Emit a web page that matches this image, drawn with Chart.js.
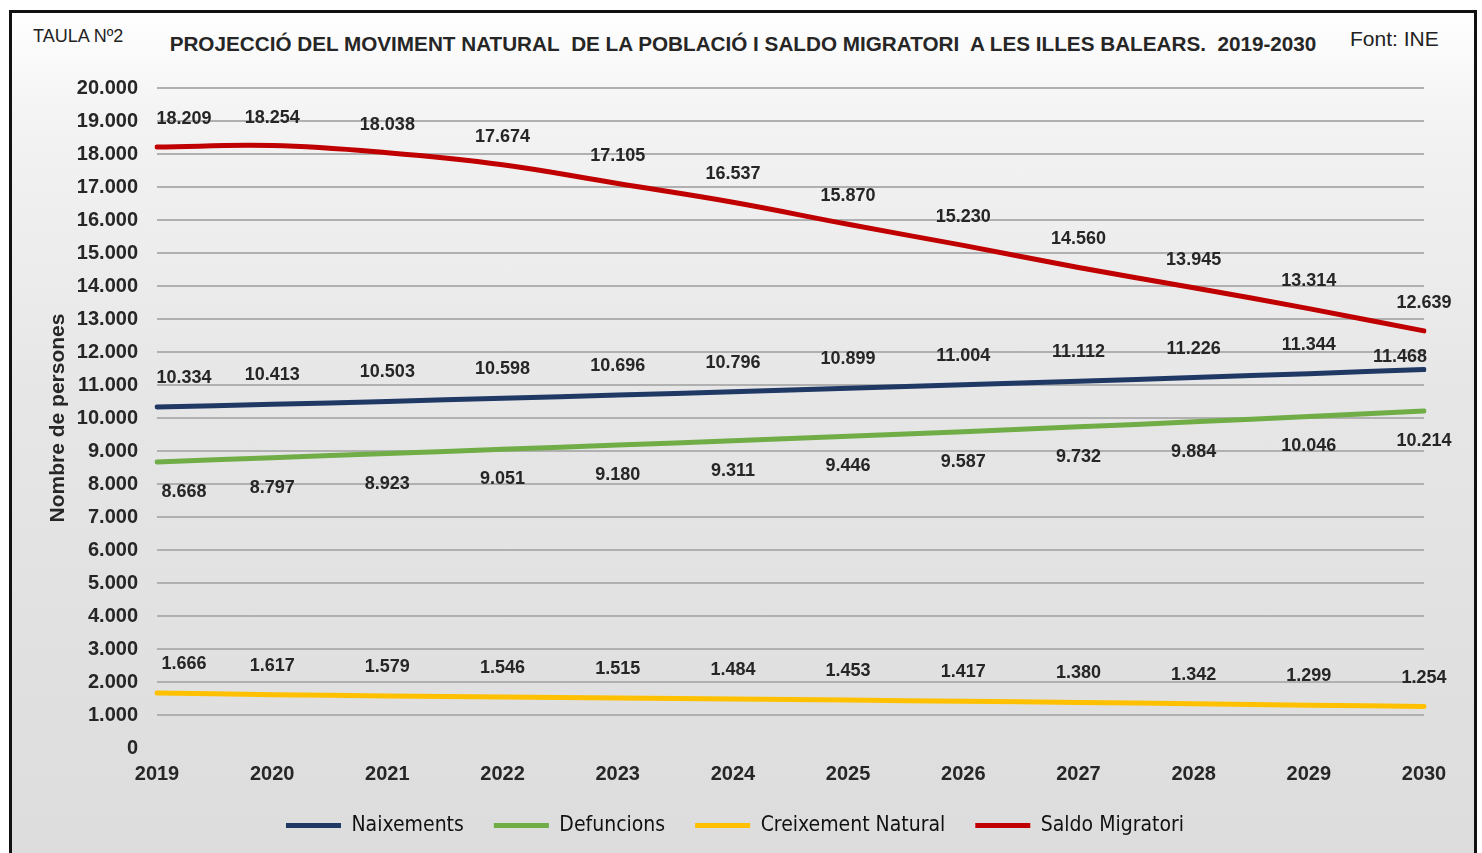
<!DOCTYPE html>
<html>
<head>
<meta charset="utf-8">
<script src="https://cdn.jsdelivr.net/npm/chart.js@4.4.1/dist/chart.umd.min.js"></script>
<style>
  html, body { margin:0; padding:0; background:#fff; }
  body { width:1482px; height:853px; position:relative; overflow:hidden; font-family:"Liberation Sans", Arial, sans-serif; }
  .frame {
    position:absolute; left:9px; top:10px; width:1462px; height:860px;
    border:3px solid #111; border-bottom:none;
    background:linear-gradient(to bottom, #ffffff 0%, #f3f3f3 12%, #e6e6e6 45%, #dcdcdc 100%);
  }
  .taula { position:absolute; left:33px; top:26px; font-size:18px; color:#222; }
  .font-ine { position:absolute; left:1350px; top:27px; font-size:21px; color:#222; }
  .title { position:absolute; left:0; width:1486px; top:32px; text-align:center; font-size:20.7px; font-weight:bold; color:#262626; }
  canvas { position:absolute; left:0; top:0; }
</style>
</head>
<body>
<div class="frame"></div>
<div class="taula">TAULA Nº2</div>
<div class="title">PROJECCIÓ DEL MOVIMENT NATURAL&nbsp; DE LA POBLACIÓ I SALDO MIGRATORI&nbsp; A LES ILLES BALEARS.&nbsp; 2019-2030</div>
<div class="font-ine">Font: INE</div>
<canvas id="chart" width="1482" height="853"></canvas>
<script>
const years = ['2019','2020','2021','2022','2023','2024','2025','2026','2027','2028','2029','2030'];
const naixements = [10334, 10413, 10503, 10598, 10696, 10796, 10899, 11004, 11112, 11226, 11344, 11468];
const defuncions = [8668, 8797, 8923, 9051, 9180, 9311, 9446, 9587, 9732, 9884, 10046, 10214];
const creixement = [1666, 1617, 1579, 1546, 1515, 1484, 1453, 1417, 1380, 1342, 1299, 1254];
const saldo      = [18209, 18254, 18038, 17674, 17105, 16537, 15870, 15230, 14560, 13945, 13314, 12639];

const fmt = v => String(Math.round(v)).replace(/\B(?=(\d{3})+(?!\d))/g, '.');

// value labels next to each point (dy: vertical offset from the line)
const pointLabels = {
  id: 'pointLabels',
  afterDatasetsDraw(chart) {
    const ctx = chart.ctx;
    ctx.save();
    ctx.font = 'bold 18px "Liberation Sans", Arial, sans-serif';
    ctx.fillStyle = '#262626';
    ctx.textAlign = 'center';
    ctx.textBaseline = 'middle';
    chart.data.datasets.forEach((ds, di) => {
      const meta = chart.getDatasetMeta(di);
      const last = meta.data.length - 1;
      meta.data.forEach((pt, i) => {
        let x = pt.x, y = pt.y + ds.labelDy;
        if (i === 0) x += 27;
        if (i === last && ds.lastLabel) { x += ds.lastLabel.dx; y = pt.y + ds.lastLabel.dy; }
        ctx.fillText(fmt(ds.data[i]), x, y);
      });
    });
    ctx.restore();
  }
};

const lineDs = (label, data, color, labelDy, lastLabel) => ({
  label, data,
  borderColor: color, backgroundColor: color,
  borderWidth: 5, borderCapStyle: 'round',
  pointRadius: 0, pointHoverRadius: 0,
  tension: 0.4, fill: false,
  labelDy, lastLabel
});

Chart.defaults.font.family = '"Liberation Sans", Arial, sans-serif';

new Chart(document.getElementById('chart'), {
  type: 'line',
  data: {
    labels: years,
    datasets: [
      lineDs('Naixements', naixements, '#1f3864', -29, { dx: -24, dy: -13 }),
      lineDs('Defuncions', defuncions, '#70ad47', 30),
      lineDs('Creixement Natural', creixement, '#ffc000', -29),
      lineDs('Saldo Migratori', saldo, '#c00000', -28)
    ]
  },
  options: {
    responsive: false,
    devicePixelRatio: 1,
    animation: false,
    layout: { padding: { left: 46, right: 58, top: 88, bottom: 7 } },
    plugins: {
      tooltip: { enabled: false },
      legend: {
        position: 'bottom',
        labels: {
          usePointStyle: true,
          pointStyle: 'line',
          pointStyleWidth: 55,
          padding: 30,
          color: '#111',
          font: { family: '"DejaVu Sans Condensed", "DejaVu Sans", sans-serif', size: 21 }
        }
      }
    },
    scales: {
      x: {
        grid: { display: false, drawTicks: false },
        border: { display: false },
        ticks: { color: '#262626', padding: 14, maxRotation: 0, font: { size: 20, weight: 'bold' } },
        afterFit: s => { s.height = 37; }
      },
      y: {
        min: 0, max: 20000,
        grid: {
          drawTicks: false, lineWidth: 2,
          color: c => c.tick && c.tick.value === 0 ? 'rgba(0,0,0,0)' : '#b0b0b0'
        },
        border: { display: false },
        ticks: { stepSize: 1000, padding: 19, color: '#262626', font: { size: 20, weight: 'bold' }, callback: v => fmt(v) },
        title: {
          display: true, text: 'Nombre de persones', color: '#262626',
          padding: { top: 0, bottom: 0 },
          font: { size: 21, weight: 'bold', lineHeight: 1.2 }
        },
        afterFit: s => { s.width = 111; }
      }
    }
  },
  plugins: [pointLabels]
});
</script>
</body>
</html>
